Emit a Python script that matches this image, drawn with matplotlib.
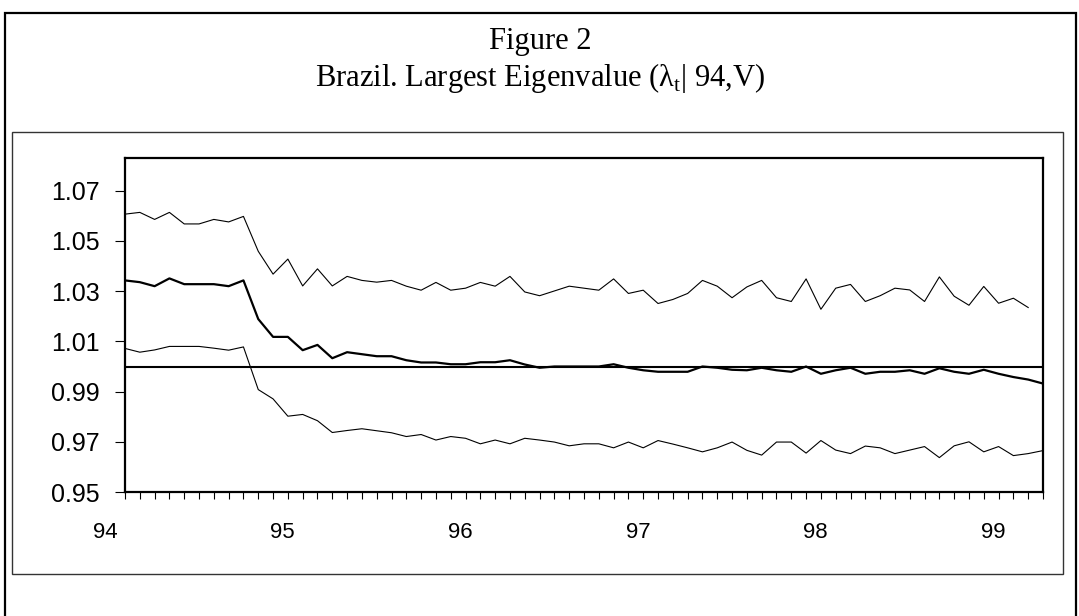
import numpy as np
import matplotlib
matplotlib.use('Agg')
import matplotlib.pyplot as plt
from matplotlib.patches import Rectangle

# monthly observations, 94:01 onwards
months = np.arange(63)

upper = [1.0607, 1.0614, 1.0586, 1.0614, 1.0568, 1.0568, 1.0586, 1.0576, 1.0598, 1.0459,
         1.0368, 1.0428, 1.0321, 1.0389, 1.0321, 1.0359, 1.0343, 1.0336, 1.0343, 1.0320,
         1.0304, 1.0335, 1.0304, 1.0312, 1.0335, 1.0320, 1.0359, 1.0297, 1.0282, 1.0301,
         1.0320, 1.0312, 1.0304, 1.0349, 1.0291, 1.0304, 1.0251, 1.0267, 1.0291, 1.0343,
         1.0320, 1.0274, 1.0317, 1.0343, 1.0274, 1.0259, 1.0349, 1.0228, 1.0312, 1.0327,
         1.0259, 1.0282, 1.0312, 1.0305, 1.0259, 1.0357, 1.0280, 1.0244, 1.0319, 1.0252,
         1.0272, 1.0235, np.nan]

estimate = [1.0343, 1.0336, 1.0320, 1.0351, 1.0328, 1.0328, 1.0328, 1.0320, 1.0343, 1.0189,
            1.0118, 1.0118, 1.0065, 1.0086, 1.0033, 1.0057, 1.0049, 1.0041, 1.0041, 1.0025,
            1.0016, 1.0016, 1.0009, 1.0009, 1.0017, 1.0017, 1.0025, 1.0008, 0.9995, 1.0000,
            1.0000, 1.0000, 1.0000, 1.0009, 0.9995, 0.9985, 0.9979, 0.9979, 0.9979, 1.0000,
            0.9995, 0.9987, 0.9985, 0.9995, 0.9985, 0.9979, 1.0000, 0.9971, 0.9985, 0.9995,
            0.9971, 0.9979, 0.9979, 0.9985, 0.9971, 0.9993, 0.9979, 0.9971, 0.9987, 0.9971,
            0.9958, 0.9948, 0.9932]

lower = [1.0072, 1.0057, 1.0066, 1.0080, 1.0080, 1.0080, 1.0073, 1.0065, 1.0078, 0.9908,
         0.9871, 0.9802, 0.9809, 0.9784, 0.9737, 0.9745, 0.9752, 0.9744, 0.9736, 0.9721,
         0.9729, 0.9707, 0.9721, 0.9714, 0.9692, 0.9707, 0.9692, 0.9714, 0.9707, 0.9699,
         0.9684, 0.9692, 0.9692, 0.9676, 0.9699, 0.9676, 0.9705, 0.9691, 0.9676, 0.9660,
         0.9676, 0.9699, 0.9666, 0.9647, 0.9699, 0.9699, 0.9655, 0.9705, 0.9667, 0.9653,
         0.9683, 0.9676, 0.9653, 0.9667, 0.9681, 0.9637, 0.9684, 0.9700, 0.9660, 0.9681,
         0.9645, 0.9653, 0.9665]

year_labels = ['94', '95', '96', '97', '98', '99']
year_pos = [-1.35, 10.65, 22.65, 34.65, 46.65, 58.65]
yticks = [0.95, 0.97, 0.99, 1.01, 1.03, 1.05, 1.07]

W, H = 1079, 616
fig = plt.figure(figsize=(W / 100, H / 100), dpi=100)

# outer frame and chart box
fig.patches.append(Rectangle((5 / W, -0.05), 1071 / W, 1.05 - 13 / H, transform=fig.transFigure,
                             fill=False, edgecolor='black', lw=1.6))
fig.patches.append(Rectangle((12 / W, 1 - 574 / H), 1051 / W, 442 / H, transform=fig.transFigure,
                             fill=False, edgecolor='#333333', lw=1.0))

fig.text(540 / W, 1 - 41 / H, 'Figure 2', ha='center', va='center',
         family='Liberation Serif', fontsize=22)
fig.text(540 / W, 1 - 78 / H, 'Brazil. Largest Eigenvalue (λ$_\\mathregular{t}$| 94,V)',
         ha='center', va='center', family='Liberation Serif', fontsize=22)

ax = fig.add_axes([125 / W, 1 - 492 / H, 918 / W, 334 / H])
ax.plot(months, upper, color='black', lw=0.8)
ax.plot(months, estimate, color='black', lw=1.6)
ax.plot(months, lower, color='black', lw=0.8)
ax.axhline(1.0, color='black', lw=1.5)

ax.set_xlim(0, 62)
ax.set_ylim(0.95, 0.95 + 334 / 2510)
for s in ax.spines.values():
    s.set_linewidth(1.6)

ax.set_yticks(yticks)
ax.set_yticklabels(['%.2f' % v for v in yticks], family='Liberation Sans', fontsize=18)
ax.tick_params(axis='y', direction='out', length=7, width=0.8, pad=11)

ax.set_xticks(months)
ax.set_xticklabels([])
ax.tick_params(axis='x', direction='out', length=5, width=0.8)
for p, lab in zip(year_pos, year_labels):
    ax.text(p, -0.12, lab, transform=ax.get_xaxis_transform(), ha='center', va='center',
            family='Liberation Sans', fontsize=16, clip_on=False)

fig.savefig('out.png', dpi=100)
